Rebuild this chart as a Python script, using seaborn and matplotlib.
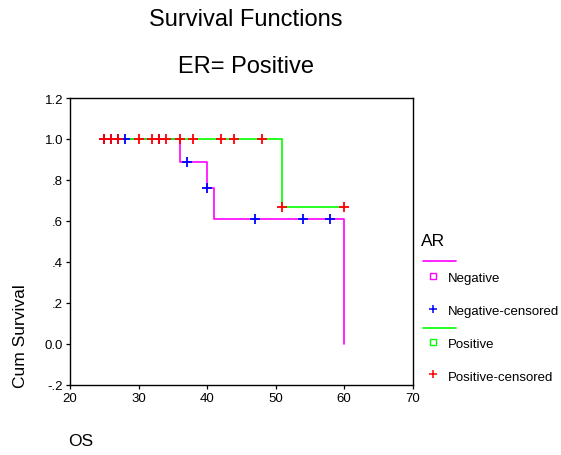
import matplotlib
matplotlib.use("Agg")
import matplotlib.pyplot as plt
from matplotlib.lines import Line2D
import seaborn as sns
import pandas as pd

# ---- data ----
neg_times = [25, 36, 40, 41, 60]
neg_surv = [1.0, 0.889, 0.762, 0.610, 0.0]
pos_times = [25, 51, 60]
pos_surv = [1.0, 0.667, 0.667]

neg_cens_times = [25, 26, 27, 28, 33, 37, 40, 47, 54, 58]
neg_cens_surv = [1.0, 1.0, 1.0, 1.0, 1.0, 0.889, 0.762, 0.610, 0.610, 0.610]
pos_cens_times = [25, 26, 27, 30, 32, 33, 34, 36, 38, 42, 44, 48, 51, 60]
pos_cens_surv = [1.0] * 12 + [0.667, 0.667]

x_ticks = [20, 30, 40, 50, 60, 70]
y_ticks = [-0.2, 0.0, 0.2, 0.4, 0.6, 0.8, 1.0, 1.2]
y_tick_labels = ["-.2", "0.0", ".2", ".4", ".6", ".8", "1.0", "1.2"]

legend_title = "AR"
legend_labels = ["Negative", "Negative-censored", "Positive", "Positive-censored"]

MAG, GRN, BLU, RED = "#ff00ff", "#00ff00", "#0000ff", "#ff0000"

sns.set_style("ticks")
plt.rcParams["font.family"] = ["Liberation Sans", "DejaVu Sans"]
plt.rcParams["text.color"] = "black"
plt.rcParams["axes.labelcolor"] = "black"
plt.rcParams["xtick.color"] = "black"
plt.rcParams["ytick.color"] = "black"

W, H = 561, 456
fig = plt.figure(figsize=(W / 100, H / 100), dpi=100)
ax = fig.add_axes([70 / W, 1 - 385.7 / H, (412.7 - 70) / W, (385.7 - 99) / H])

neg_df = pd.DataFrame({"t": neg_times, "s": neg_surv})
pos_df = pd.DataFrame({"t": pos_times, "s": pos_surv})
sns.lineplot(data=neg_df, x="t", y="s", drawstyle="steps-post", color=MAG,
             linewidth=1.2, estimator=None, sort=False, ax=ax)
sns.lineplot(data=pos_df, x="t", y="s", drawstyle="steps-post", color=GRN,
             linewidth=1.2, estimator=None, sort=False, ax=ax)

sns.scatterplot(x=neg_cens_times, y=neg_cens_surv, marker="+", s=45,
                color=BLU, linewidth=1.3, ax=ax, zorder=4)
sns.scatterplot(x=pos_cens_times, y=pos_cens_surv, marker="+", s=45,
                color=RED, linewidth=1.3, ax=ax, zorder=5)

ax.set_xlim(20, 70)
ax.set_ylim(-0.2, 1.2)
ax.set_xticks(x_ticks)
ax.set_xticklabels([str(v) for v in x_ticks])
ax.set_yticks(y_ticks)
ax.set_yticklabels(y_tick_labels)
ax.tick_params(direction="out", length=3, width=0.9, labelsize=9.5, pad=2,
               colors="black")
for sp in ax.spines.values():
    sp.set_visible(True)
    sp.set_color("black")
    sp.set_linewidth(1.0)
ax.set_xlabel("")
ax.set_ylabel("")

def fy(y):
    return 1 - y / H

def fx(x):
    return x / W

fig.text(fx(21), fy(336), "Cum Survival", rotation=90, ha="center", va="center", fontsize=12.5)
fig.text(fx(80.5), fy(442), "OS", ha="center", va="center", fontsize=12.5)
fig.text(fx(246), fy(20), "Survival Functions", ha="center", va="center", fontsize=17)
fig.text(fx(246), fy(67), "ER= Positive", ha="center", va="center", fontsize=17)

# legend (manual, SPSS-style)
fig.text(fx(421), fy(242), legend_title, ha="left", va="center", fontsize=12.5)
fig.add_artist(Line2D([fx(423), fx(456)], [fy(262), fy(262)], color=MAG, lw=1.2))
fig.add_artist(Line2D([fx(433)], [fy(277)], marker="s", ms=4, mfc="none", mec=MAG, mew=1.0, ls=""))
fig.text(fx(448), fy(279), legend_labels[0], ha="left", va="center", fontsize=9.5)
fig.add_artist(Line2D([fx(433)], [fy(310)], marker="+", ms=6, mec=BLU, mew=1.1, ls=""))
fig.text(fx(448), fy(312), legend_labels[1], ha="left", va="center", fontsize=9.5)
fig.add_artist(Line2D([fx(423), fx(456)], [fy(329), fy(329)], color=GRN, lw=1.2))
fig.add_artist(Line2D([fx(433)], [fy(343)], marker="s", ms=4, mfc="none", mec=GRN, mew=1.0, ls=""))
fig.text(fx(448), fy(345), legend_labels[2], ha="left", va="center", fontsize=9.5)
fig.add_artist(Line2D([fx(433)], [fy(375)], marker="+", ms=6, mec=RED, mew=1.1, ls=""))
fig.text(fx(448), fy(378), legend_labels[3], ha="left", va="center", fontsize=9.5)

fig.savefig("out.png", dpi=100)
